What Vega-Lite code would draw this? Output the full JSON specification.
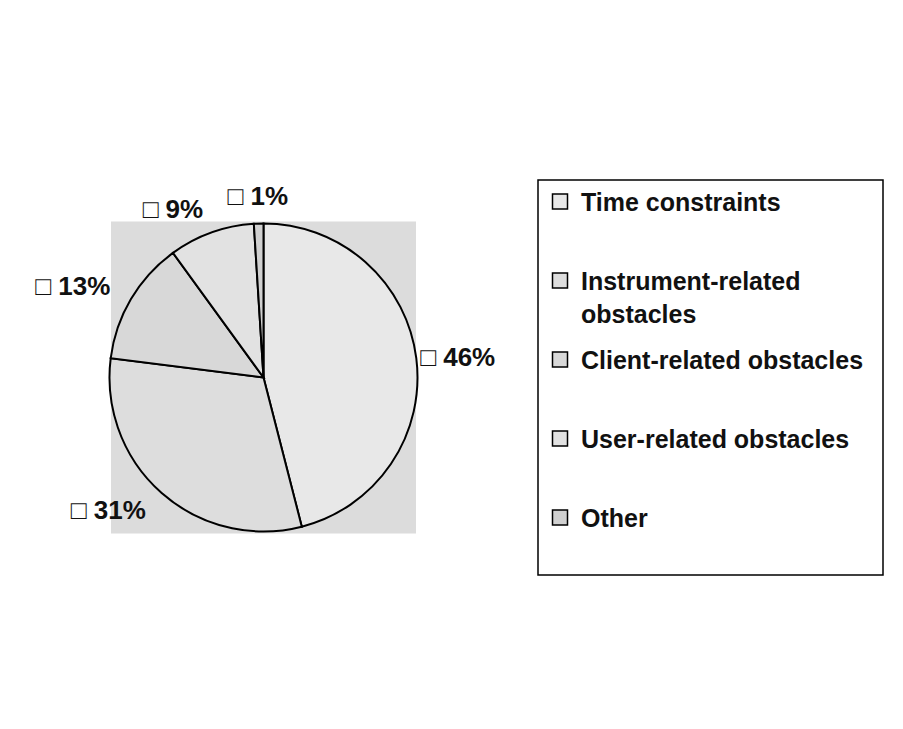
{
  "$schema": "https://vega.github.io/schema/vega-lite/v6.json",
  "autosize": {"type": "pad"},
  "padding": {"left": 28, "top": 179, "right": 0, "bottom": 0},
  "background": "white",
  "config": {"concat": {"spacing": 122}, "font": "Liberation Sans", "view": {"stroke": null}},
  "center": true,
  "bounds": "flush",
  "datasets": {
    "obstacles": [
      {"category": "Time constraints", "share": 46, "rank": 1},
      {"category": "Instrument-related obstacles", "share": 31, "rank": 2},
      {"category": "Client-related obstacles", "share": 13, "rank": 3},
      {"category": "User-related obstacles", "share": 9, "rank": 4},
      {"category": "Other", "share": 1, "rank": 5}
    ]
  },
  "hconcat": [
    {
      "width": 305,
      "height": 312,
      "view": {"fill": "#dcdcdc", "stroke": null},
      "data": {"name": "obstacles"},
      "transform": [{"calculate": "'□  ' + datum.share + '%'", "as": "label"}],
      "encoding": {
        "theta": {"field": "share", "type": "quantitative", "stack": true},
        "order": {"field": "rank", "type": "quantitative"}
      },
      "layer": [
        {
          "mark": {"type": "arc", "outerRadius": 154, "stroke": "black", "strokeWidth": 2},
          "encoding": {
            "color": {
              "field": "category", "type": "nominal", "legend": null,
              "scale": {
                "domain": ["Time constraints", "Instrument-related obstacles", "Client-related obstacles", "User-related obstacles", "Other"],
                "range": ["#e8e8e8", "#dddddd", "#d8d8d8", "#e2e2e2", "#d0d0d0"]
              }
            }
          }
        },
        {
          "mark": {"type": "text", "radius": 158, "fontSize": 26, "fontWeight": "bold", "font": "Liberation Sans", "color": "#111", "align": "left", "baseline": "middle"},
          "encoding": {"text": {"condition": {"test": "datum.rank == 1", "field": "label"}, "value": ""}}
        },
        {
          "mark": {"type": "text", "radius": 178, "fontSize": 26, "fontWeight": "bold", "font": "Liberation Sans", "color": "#111", "align": "right", "baseline": "middle"},
          "encoding": {"text": {"condition": {"test": "datum.rank >= 2 && datum.rank <= 4", "field": "label"}, "value": ""}}
        },
        {
          "mark": {"type": "text", "radius": 181, "fontSize": 26, "fontWeight": "bold", "font": "Liberation Sans", "color": "#111", "align": "center", "baseline": "middle"},
          "encoding": {"text": {"condition": {"test": "datum.rank == 5", "field": "label"}, "value": ""}}
        }
      ]
    },
    {
      "width": 345,
      "height": 395,
      "view": {"stroke": "black", "strokeWidth": 1.5, "fill": "white"},
      "data": {"name": "obstacles"},
      "transform": [{"calculate": "datum.category == 'Instrument-related obstacles' ? 'Instrument-related\\nobstacles' : datum.category", "as": "legendLabel"}],
      "encoding": {
        "y": {
          "field": "category", "type": "nominal",
          "sort": ["Time constraints", "Instrument-related obstacles", "Client-related obstacles", "User-related obstacles", "Other"],
          "scale": {"type": "band", "paddingInner": 0, "paddingOuter": 0},
          "axis": null
        }
      },
      "layer": [
        {
          "mark": {"type": "square", "size": 225, "x": 22, "yOffset": -18, "stroke": "black", "strokeWidth": 1.5, "opacity": 1, "filled": true},
          "encoding": {
            "color": {
              "field": "category", "type": "nominal", "legend": null,
              "scale": {
                "domain": ["Time constraints", "Instrument-related obstacles", "Client-related obstacles", "User-related obstacles", "Other"],
                "range": ["#e8e8e8", "#dddddd", "#d8d8d8", "#e2e2e2", "#d0d0d0"]
              }
            }
          }
        },
        {
          "mark": {"type": "text", "x": 43, "align": "left", "baseline": "alphabetic", "yOffset": -9, "lineBreak": "\n", "lineHeight": 33, "fontSize": 25, "fontWeight": "bold", "font": "Liberation Sans", "color": "#111"},
          "encoding": {"text": {"field": "legendLabel", "type": "nominal"}}
        }
      ]
    }
  ]
}
